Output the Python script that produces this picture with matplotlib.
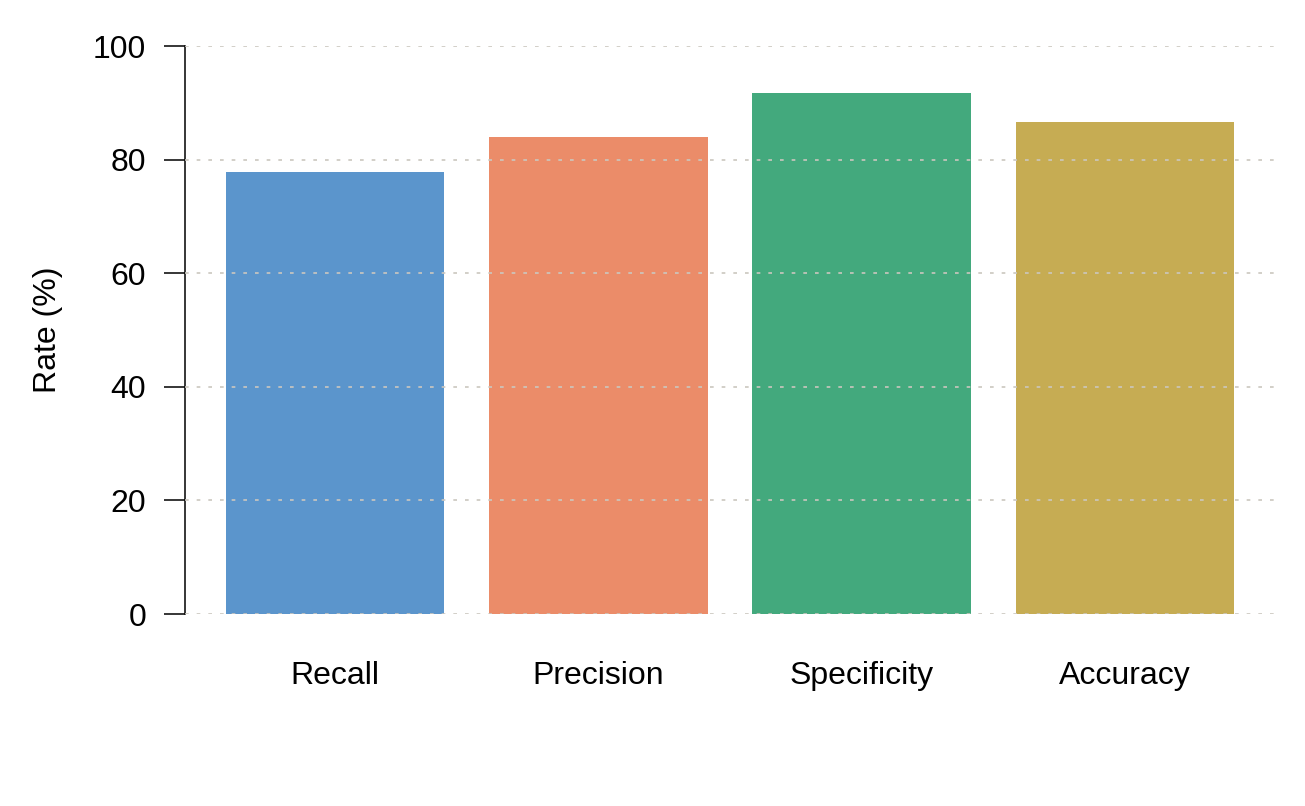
import numpy as np
import matplotlib
matplotlib.use('Agg')
import matplotlib.pyplot as plt

metrics = ['Recall', 'Precision', 'Specificity', 'Accuracy']
rates = [77.9, 83.9, 91.7, 86.7]
bar_colors = ['#5b95cc', '#eb8c69', '#43a97d', '#c6ac53']
yticks = [0, 20, 40, 60, 80, 100]

plt.rcParams['font.family'] = ['Liberation Sans', 'DejaVu Sans']

fig = plt.figure(figsize=(13.05, 8.06), dpi=100)
ax = fig.add_axes([185/1305, 1-614/806, 1090/1305, 568/806])

x = np.arange(len(metrics))
ax.bar(x, rates, width=0.83, color=bar_colors, zorder=1)

ax.set_xlim(-0.57, 3.57)
ax.set_ylim(0, 100)
ax.set_yticks(yticks)
ax.set_xticks(x)
ax.set_xticklabels(metrics)

ax.grid(axis='y', color='#cbc7bf', linestyle=(0, (2.2, 4.8)), linewidth=1.2, zorder=2)
ax.set_axisbelow(False)

for s in ['top', 'right', 'bottom']:
    ax.spines[s].set_visible(False)
ax.spines['left'].set_linewidth(1.1)
ax.spines['left'].set_color('black')

ax.tick_params(axis='y', length=15, width=1.1, pad=13, labelsize=23, color='black')
ax.tick_params(axis='x', length=0, pad=34, labelsize=23)

ax.set_ylabel('Rate (%)', fontsize=23)
ax.yaxis.set_label_coords(-(185-63)/1090, 0.5)

fig.savefig('out.png', dpi=100)
